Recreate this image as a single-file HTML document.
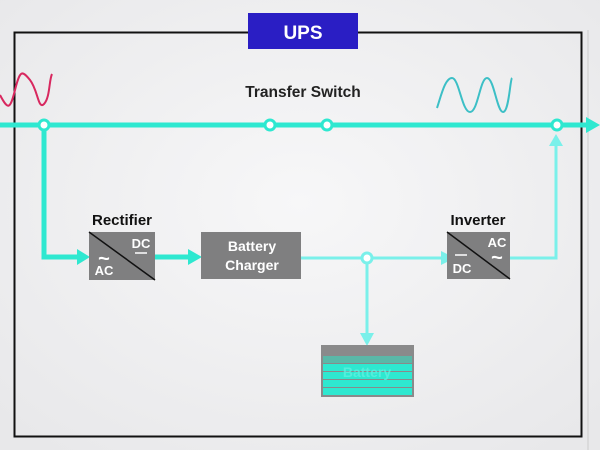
<!DOCTYPE html>
<html><head><style>
body{margin:0;width:600px;height:450px;overflow:hidden;background:#efeff0;}
svg{display:block}
text{font-family:"Liberation Sans",sans-serif;font-weight:bold}
</style></head><body>
<svg width="600" height="450" viewBox="0 0 600 450">
<defs>
<radialGradient id="bg" cx="50%" cy="45%" r="70%"><stop offset="0" stop-color="#f7f7f8"/><stop offset="1" stop-color="#e8e8ea"/></radialGradient>
</defs>
<rect width="600" height="450" fill="url(#bg)"/>
<rect x="14.5" y="32.5" width="567" height="404" fill="none" stroke="#111" stroke-width="2"/>
<line x1="588" y1="30" x2="588" y2="450" stroke="#ccc" stroke-width="1"/>
<rect x="248" y="13" width="110" height="36" fill="#2a1ec4"/>
<text x="303" y="39" fill="#fff" font-size="19" text-anchor="middle" font-weight="normal">UPS</text>
<text x="303" y="97" fill="#222" font-size="15.5" text-anchor="middle">Transfer Switch</text>
<path d="M0 95 C8 110,10 110,15 90 S22 70,30 80 S38 110,44 104 S49 80,52 74" fill="none" stroke="#d8285f" stroke-width="2"/>
<path d="M437 108 C441 96,445 78,452 78 S462 112,470 112 S480 78,487 78 S497 112,503 112 S510 80,512 78" fill="none" stroke="#3cbfc6" stroke-width="2"/>
<g stroke="#2ee8d0" fill="none">
<line x1="0" y1="125" x2="588" y2="125" stroke-width="5"/>
<path d="M44 125 V257 H78" stroke-width="5"/>
<line x1="155" y1="257" x2="190" y2="257" stroke-width="5"/>
</g>
<polygon points="586,117 600,125 586,133" fill="#2ee8d0"/>
<polygon points="77,249 90,257 77,265" fill="#2ee8d0"/>
<polygon points="188,249 202,257 188,265" fill="#2ee8d0"/>
<g stroke="#7af0ea" fill="none" stroke-width="3">
<line x1="301" y1="258" x2="448" y2="258"/>
<line x1="367" y1="258" x2="367" y2="334"/>
<path d="M510 258 H556 V146"/>
</g>
<polygon points="441,251 455,258 441,265" fill="#7af0ea"/>
<polygon points="360,333 374,333 367,346" fill="#7af0ea"/>
<polygon points="549,146 563,146 556,134" fill="#7af0ea"/>
<g fill="#fff" stroke="#2ee8d0" stroke-width="3">
<circle cx="44" cy="125" r="5"/><circle cx="270" cy="125" r="5"/><circle cx="327" cy="125" r="5"/><circle cx="557" cy="125" r="5"/>
</g>
<circle cx="367" cy="258" r="5" fill="#fff" stroke="#7af0ea" stroke-width="3"/>
<text x="122" y="225" fill="#111" font-size="15" text-anchor="middle">Rectifier</text>
<rect x="89" y="232" width="66" height="48" fill="#7f7f80"/>
<line x1="89" y1="232" x2="155" y2="280" stroke="#111" stroke-width="1.5"/>
<text x="141" y="248" fill="#fff" font-size="13" text-anchor="middle">DC</text>
<line x1="135" y1="253" x2="147" y2="253" stroke="#fff" stroke-width="1.5"/>
<text x="104" y="265" fill="#fff" font-size="20" text-anchor="middle" font-weight="normal">~</text>
<text x="104" y="275" fill="#fff" font-size="13" text-anchor="middle">AC</text>
<rect x="201" y="232" width="100" height="47" fill="#7f7f80"/>
<text x="252" y="251" fill="#fff" font-size="14" text-anchor="middle">Battery</text>
<text x="252" y="270" fill="#fff" font-size="14" text-anchor="middle">Charger</text>
<text x="478" y="225" fill="#111" font-size="15" text-anchor="middle">Inverter</text>
<rect x="447" y="232" width="63" height="47" fill="#7f7f80"/>
<line x1="447" y1="232" x2="510" y2="279" stroke="#111" stroke-width="1.5"/>
<text x="497" y="247" fill="#fff" font-size="13" text-anchor="middle">AC</text>
<text x="497" y="264" fill="#fff" font-size="20" text-anchor="middle" font-weight="normal">~</text>
<line x1="455" y1="255" x2="467" y2="255" stroke="#fff" stroke-width="1.5"/>
<text x="462" y="273" fill="#fff" font-size="13" text-anchor="middle">DC</text>
<rect x="321" y="345" width="93" height="52" fill="#8a8a8b"/>
<rect x="323" y="356" width="89" height="7" fill="#5ab8a8"/>
<rect x="323" y="364" width="89" height="7" fill="#2ee8d0"/>
<rect x="323" y="372" width="89" height="7" fill="#2ee8d0"/>
<rect x="323" y="380" width="89" height="7" fill="#2ee8d0"/>
<rect x="323" y="388" width="89" height="7" fill="#2ee8d0"/>
<text x="367" y="377" fill="#5ef0e0" font-size="14" text-anchor="middle" opacity="0.8">Battery</text>
</svg>
</body></html>
